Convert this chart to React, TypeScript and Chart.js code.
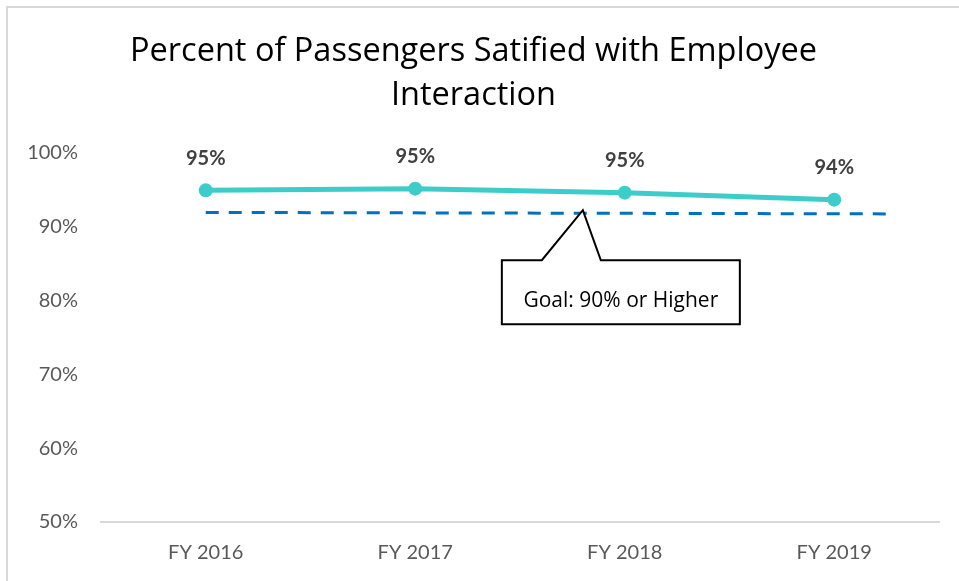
import React, { useEffect, useRef } from "react";
import { Chart, registerables } from "chart.js";

Chart.register(...registerables);

const categories = ["FY 2016", "FY 2017", "FY 2018", "FY 2019"];
const satisfied = [94.94, 95.17, 94.63, 93.68];
const goalStartValue = 91.95;
const goalEndValue = 91.75;
const goalStartIndex = 0;
const goalEndIndex = 3.28;
const calloutIndex = 1.8;
const calloutText = "Goal: 90% or Higher";
const titleLines = ["Percent of Passengers Satified with Employee", "Interaction"];
const yMin = 50;
const yMax = 100;
const yStep = 10;

const FONT = "Lato, 'Open Sans', sans-serif";
const FONT2 = "'Open Sans', Lato, sans-serif";

const goalLinePlugin = {
  id: "goalLine",
  beforeDatasetsDraw(chart: any) {
    const { ctx, scales } = chart;
    const x = scales.x;
    const y = scales.y;
    ctx.save();
    ctx.strokeStyle = "#0070C0";
    ctx.lineWidth = 3;
    ctx.setLineDash([13, 10]);
    ctx.beginPath();
    ctx.moveTo(x.getPixelForValue(goalStartIndex), y.getPixelForValue(goalStartValue));
    ctx.lineTo(x.getPixelForValue(goalEndIndex), y.getPixelForValue(goalEndValue));
    ctx.stroke();
    ctx.restore();
  },
};

const labelsPlugin = {
  id: "pointLabels",
  afterDatasetsDraw(chart: any) {
    const { ctx } = chart;
    const meta = chart.getDatasetMeta(0);
    ctx.save();
    ctx.font = `bold 20px ${FONT}`;
    ctx.fillStyle = "#404040";
    ctx.textAlign = "center";
    ctx.textBaseline = "middle";
    meta.data.forEach((pt: any, i: number) => {
      ctx.fillText(Math.round(satisfied[i]) + "%", pt.x, pt.y - 32);
    });
    ctx.restore();
  },
};

const calloutPlugin = {
  id: "callout",
  afterDatasetsDraw(chart: any) {
    const { ctx, scales } = chart;
    const t = (calloutIndex - goalStartIndex) / (goalEndIndex - goalStartIndex);
    const goalAt = goalStartValue + (goalEndValue - goalStartValue) * t;
    const tipX = scales.x.getPixelForValue(calloutIndex);
    const tipY = scales.y.getPixelForValue(goalAt) - 3;
    const left = tipX - 81;
    const right = tipX + 157;
    const top = tipY + 50;
    const bottom = tipY + 114;
    ctx.save();
    ctx.strokeStyle = "#000000";
    ctx.lineWidth = 2;
    ctx.fillStyle = "#ffffff";
    ctx.lineJoin = "miter";
    ctx.beginPath();
    ctx.moveTo(left, top);
    ctx.lineTo(tipX - 41, top);
    ctx.lineTo(tipX, tipY);
    ctx.lineTo(tipX + 18, top);
    ctx.lineTo(right, top);
    ctx.lineTo(right, bottom);
    ctx.lineTo(left, bottom);
    ctx.closePath();
    ctx.fill();
    ctx.stroke();
    ctx.fillStyle = "#000000";
    ctx.font = `21px ${FONT2}`;
    ctx.textAlign = "center";
    ctx.textBaseline = "middle";
    ctx.fillText(calloutText, (left + right) / 2, top + 41);
    ctx.restore();
  },
};

export default function App() {
  const ref = useRef<HTMLCanvasElement | null>(null);
  useEffect(() => {
    if (!ref.current) return;
    const chart = new Chart(ref.current, {
      type: "line",
      data: {
        labels: categories,
        datasets: [
          {
            data: satisfied,
            borderColor: "#3CCDCB",
            backgroundColor: "#3CCDCB",
            borderWidth: 5,
            pointRadius: 7,
            pointHoverRadius: 7,
            pointBackgroundColor: "#3CCDCB",
            pointBorderWidth: 0,
            tension: 0,
          },
        ],
      },
      options: {
        animation: false,
        responsive: false,
        maintainAspectRatio: false,
        events: [],
        layout: { padding: { left: 0, right: 20, top: 0, bottom: 0 } },
        plugins: {
          legend: { display: false },
          tooltip: { enabled: false },
          title: {
            display: true,
            text: titleLines,
            color: "#000000",
            font: { family: FONT2, size: 32.5, weight: "normal", lineHeight: 1.354 },
            padding: { top: 22, bottom: 35 },
          },
        },
        scales: {
          x: {
            type: "category",
            offset: true,
            grid: { display: false, drawTicks: false, tickLength: 0 },
            border: { display: true, color: "#D9D9D9", width: 2 },
            ticks: {
              color: "#595959",
              font: { family: FONT, size: 20 },
              padding: 19,
              maxRotation: 0,
            },
            afterFit(scale: any) {
              scale.height = 59;
            },
          },
          y: {
            min: yMin,
            max: yMax,
            grid: { display: false, drawTicks: false, tickLength: 0 },
            border: { display: false },
            ticks: {
              stepSize: yStep,
              color: "#595959",
              font: { family: FONT, size: 20 },
              padding: 23,
              callback: (v: any) => v + "%",
            },
            afterFit(scale: any) {
              scale.width = 93;
            },
          },
        },
      },
      plugins: [goalLinePlugin, labelsPlugin, calloutPlugin],
    });
    return () => chart.destroy();
  }, []);

  return (
    <div
      style={{
        position: "absolute",
        left: 6,
        top: 6,
        width: 953,
        height: 575,
        boxSizing: "border-box",
        borderTop: "2px solid #D9D9D9",
        borderLeft: "2px solid #D9D9D9",
        background: "#ffffff",
      }}
    >
      <canvas ref={ref} width={951} height={573} style={{ display: "block" }} />
    </div>
  );
}
